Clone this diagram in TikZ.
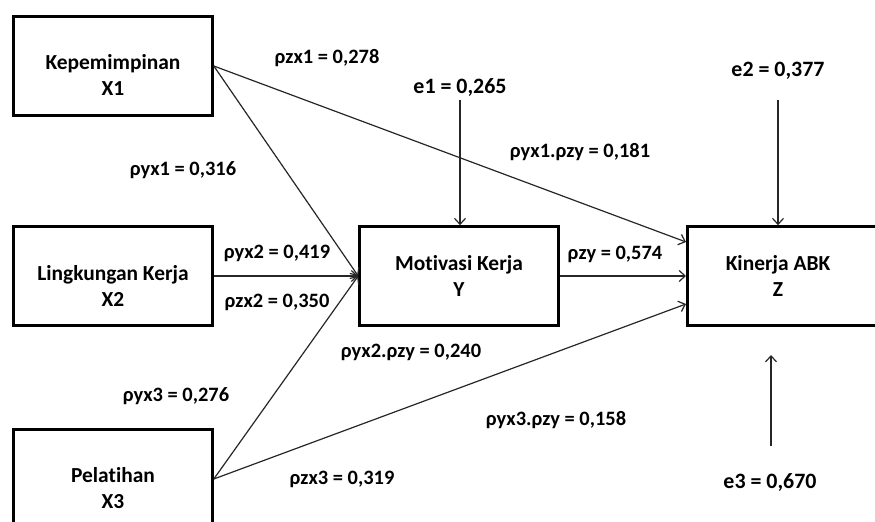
\documentclass[tikz,border=0pt]{standalone}
\usepackage{fontspec}
\setmainfont{Carlito}[Ligatures={NoCommon}]
\usetikzlibrary{arrows.meta}
\begin{document}
\begin{tikzpicture}[x=1bp,y=-1bp,
  box/.style={draw=black,line width=2.6bp,minimum width=199bp,minimum height=99bp,inner sep=0pt},
  boxtext/.style={align=center,font=\fontsize{21.5}{26}\selectfont\bfseries,inner sep=0pt},
  lbl/.style={font=\fontsize{20.5}{22}\selectfont\bfseries,inner sep=0pt},
  elbl/.style={font=\fontsize{22}{24}\selectfont\bfseries,inner sep=0pt},
  conn/.style={draw=black!85,line width=1.2bp,-{Straight Barb[length=6bp,width=11bp,line width=1.2bp]}}]
\useasboundingbox (0,0) rectangle (875,522);
\clip (0,0) rectangle (875,522);
% boxes
\node[box] (x1) at (113,66) {};
\node[boxtext] at ([yshift=-9bp]x1.center) {Kepemimpinan\\X1};
\node[box] (x2) at (113,276) {};
\node[boxtext] at ([yshift=-10bp]x2.center) {Lingkungan Kerja\\X2};
\node[box] (x3) at (113,479) {};
\node[boxtext] at ([yshift=-9bp]x3.center) {Pelatihan\\X3};
\node[box,align=center,font=\fontsize{21.5}{26}\selectfont\bfseries] (y) at (459,276) {Motivasi Kerja\\Y};
\node[box,minimum width=300bp] (z) at (837.3,276) {};
\node[boxtext] at (778,276) {Kinerja ABK\\Z};
% connectors
\draw[conn] (x1.east) -- (y.west);
\draw[conn] (x1.east) -- ([yshift=34bp]z.west);
\draw[conn] (x2.east) -- (y.west);
\draw[conn] (x3.east) -- (y.west);
\draw[conn] (x3.east) -- ([yshift=-28bp]z.west);
\draw[conn] (y.east) -- (z.west);
% errors
\node[elbl] (e1) at (460,88) {e1 = 0,265};
\coordinate (e1s) at (460,100);
\draw[conn] (e1s) -- (e1s |- y.north);
\node[elbl] (e2) at (778,71) {e2 = 0,377};
\coordinate (e2s) at (778,100);
\draw[conn] (e2s) -- (e2s |- z.north);
\node[elbl] (e3) at (770,482) {e3 = 0,670};
\coordinate (e3s) at (771,446);
\coordinate (e3e) at (771,355);
\draw[conn] (e3s) -- (e3e);
% labels
\node[lbl] at (327,58) {ρzx1 = 0,278};
\node[lbl] at (580,152) {ρyx1.ρzy = 0,181};
\node[lbl] at (183,170) {ρyx1 = 0,316};
\node[lbl] at (277,253) {ρyx2 = 0,419};
\node[lbl] at (277,302) {ρzx2 = 0,350};
\node[lbl] at (615,254) {ρzy = 0,574};
\node[lbl] at (411,352) {ρyx2.ρzy = 0,240};
\node[lbl] at (176,396) {ρyx3 = 0,276};
\node[lbl] at (556,420) {ρyx3.ρzy = 0,158};
\node[lbl] at (342,479) {ρzx3 = 0,319};
\end{tikzpicture}
\end{document}
